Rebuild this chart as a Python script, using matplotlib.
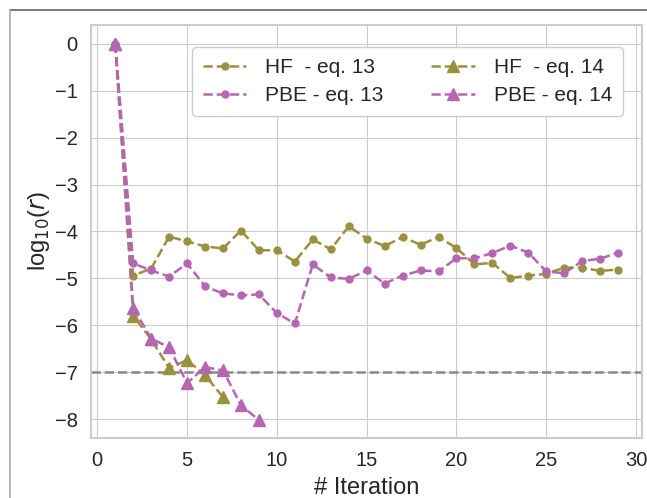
import numpy as np
import matplotlib
matplotlib.use("Agg")
import matplotlib.pyplot as plt
import seaborn as sns
from matplotlib.lines import Line2D

sns.set_style("whitegrid")
plt.rcParams['font.family'] = ['Liberation Sans', 'DejaVu Sans']

# Data
it_13 = list(range(1, 30))
hf_13 = [0, -4.94, -4.79, -4.11, -4.21, -4.32, -4.36, -3.98, -4.40, -4.40,
         -4.64, -4.17, -4.38, -3.89, -4.15, -4.31, -4.12, -4.28, -4.12, -4.35,
         -4.70, -4.67, -4.99, -4.94, -4.90, -4.77, -4.77, -4.84, -4.81]
pbe_13 = [0, -4.68, -4.83, -4.96, -4.68, -5.17, -5.32, -5.36, -5.34, -5.74,
          -5.96, -4.70, -4.98, -5.01, -4.83, -5.11, -4.94, -4.83, -4.85, -4.57,
          -4.57, -4.46, -4.30, -4.45, -4.85, -4.89, -4.63, -4.58, -4.45]
it_hf_14 = [1, 2, 3, 4, 5, 6, 7]
hf_14 = [0, -5.79, -6.30, -6.91, -6.74, -7.06, -7.53]
it_pbe_14 = [1, 2, 3, 4, 5, 6, 7, 8, 9]
pbe_14 = [0, -5.62, -6.28, -6.47, -7.23, -6.89, -6.96, -7.70, -8.02]
threshold = -7

olive = '#9a9140'
magenta = '#b566b0'

fig = plt.figure(figsize=(6.47, 4.98), dpi=100)
ax = fig.add_axes([91/647, 1 - 438/498, (642 - 91)/647, (438 - 25)/498])

ax.plot(it_13, hf_13, '--', marker='o', ms=5, lw=1.8, color=olive, label='HF  - eq. 13')
ax.plot(it_13, pbe_13, '--', marker='o', ms=5, lw=1.8, color=magenta, label='PBE - eq. 13')
ax.plot(it_hf_14, hf_14, '--', marker='^', ms=9, lw=1.8, color=olive, label='HF  - eq. 14')
ax.plot(it_pbe_14, pbe_14, '--', marker='^', ms=9, lw=1.8, color=magenta, label='PBE - eq. 14')
ax.axhline(threshold, ls='--', color='#888888', lw=1.8, zorder=1)

ax.set_xlim(-0.35, 30.33)
ax.set_ylim(-8.4, 0.4)
ax.set_xticks([0, 5, 10, 15, 20, 25, 30])
ax.set_yticks([0, -1, -2, -3, -4, -5, -6, -7, -8])
ax.tick_params(labelsize=14.5, pad=6)
ax.set_xlabel('# Iteration', fontsize=17, labelpad=5)
ax.set_ylabel(r'log$_{10}$($r$)', fontsize=17, labelpad=2)
for s in ax.spines.values():
    s.set_color('#cccccc')
    s.set_linewidth(1.5)

ax.legend(ncol=2, loc='upper right', fontsize=15, handlelength=2.1,
          handletextpad=0.9, columnspacing=2.3, borderpad=0.5, labelspacing=0.45,
          bbox_to_anchor=(0.984, 0.971), framealpha=1, edgecolor='#cccccc')

# outer frame of the original figure
fig.add_artist(Line2D([10/647, 1], [1 - 10/498, 1 - 10/498], transform=fig.transFigure, color='#666666', lw=1.2))
fig.add_artist(Line2D([10/647, 10/647], [0, 1 - 10/498], transform=fig.transFigure, color='#aaaaaa', lw=1.2))

fig.savefig('out.png', dpi=100)
